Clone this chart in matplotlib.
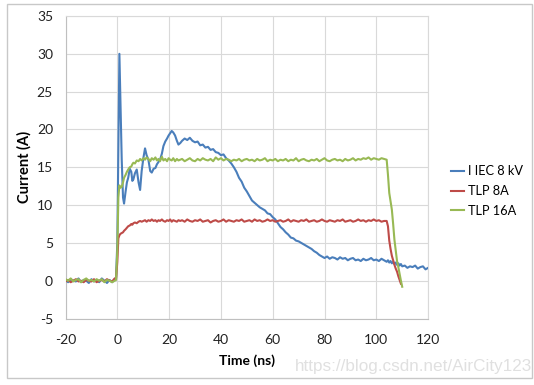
import numpy as np
import matplotlib
matplotlib.use("Agg")
import matplotlib.pyplot as plt
from matplotlib.patches import Rectangle

plt.rcParams["font.family"] = ["Lato", "DejaVu Sans"]
plt.rcParams["axes.unicode_minus"] = False

nan = np.nan

# sample times (ns)
t_pre = list(range(-20, 0))
t_edge = [-0.5, 0, 0.4, 0.8, 1.2, 1.7, 2.2, 2.6, 3.2, 3.7,
          4.2, 4.8, 5.4, 5.8, 6.2, 6.8, 7.5, 8.2, 8.8, 9.4,
          10.1, 10.7, 11.3, 12.0, 12.7, 13.3, 14.0, 14.7, 15.3, 15.9,
          16.5, 17.2, 17.8, 18.5, 19.2, 19.8, 20.4, 21.0, 21.6, 22.3,
          23.0, 23.6, 24.3]
t_mid = list(range(25, 104))
t_fall = [104, 104.5, 105, 105.5, 106, 106.5, 107, 107.5, 108, 108.5, 109, 109.5, 110]
t_post = list(range(111, 121))
time_ns = t_pre + t_edge + t_mid + t_fall + t_post

iec_8kv = (
    # -20 .. -1
    [0.1, -0.2, 0.2, 0.0, -0.1, 0.3, -0.2, 0.1, 0.0, -0.3,
     0.2, -0.1, 0.1, -0.2, 0.3, 0.0, -0.3, 0.1, -0.2, 0.2]
    # rising edge
    + [0.4, 5.0, 18.0, 30.0, 24.0, 16.0, 11.0, 10.2, 11.8, 13.0,
       13.6, 14.8, 14.4, 13.2, 13.4, 14.2, 14.7, 13.0, 12.0, 14.5,
       16.3, 17.5, 16.6, 16.0, 14.5, 14.3, 14.8, 14.9, 15.4, 15.7,
       16.0, 16.8, 17.8, 18.4, 18.8, 19.2, 19.5, 19.8, 19.6, 19.2,
       18.5, 18.0, 18.2]
    # 25 .. 103
    + [18.5, 18.8, 18.6, 18.9, 18.5, 18.3, 18.4, 17.9, 18.0, 17.6,
       17.7, 17.3, 17.4, 17.0, 16.9, 16.6, 16.7, 16.2, 15.9, 15.5,
       15.0, 14.4, 13.6, 13.1, 12.3, 11.8, 11.2, 10.6, 10.3, 10.0,
       9.7, 9.5, 9.3, 8.9, 8.8, 8.4, 8.1, 7.6, 7.1, 6.8,
       6.4, 6.1, 5.7, 5.6, 5.3, 5.2, 5.0, 4.8, 4.6, 4.4,
       4.2, 3.9, 3.7, 3.4, 3.2, 3.0, 3.2, 2.9, 3.1, 3.0,
       2.8, 3.1, 2.9, 3.0, 2.7, 2.9, 3.0, 2.7, 2.8, 2.6,
       2.9, 2.7, 2.8, 3.0, 2.7, 2.8, 2.6, 2.9, 2.7]
    # 104 .. 110
    + [2.5, 2.7, 2.4, 2.6, 2.3, 2.5, 2.2, 2.4, 2.1, 2.3, 2.0, 2.2, 1.9]
    # 111 .. 120
    + [2.0, 1.7, 1.9, 1.8, 2.0, 1.6, 1.8, 1.9, 1.5, 1.7]
)

tlp_8a = (
    [-0.1, 0.1, -0.2, 0.0, 0.2, -0.1, 0.0, -0.2, 0.1, 0.0,
     -0.1, 0.2, -0.2, 0.0, 0.1, -0.1, 0.2, 0.0, -0.1, 0.3]
    + [0.2, 2.5, 5.6, 6.0, 6.2, 6.3, 6.4, 6.6, 6.8, 7.0,
       7.2, 7.3, 7.5, 7.4, 7.6, 7.7, 7.6, 7.8, 7.9, 7.8,
       7.9, 8.0, 7.8, 8.0, 7.9, 8.1, 7.9, 8.0, 7.8, 8.0,
       7.9, 8.1, 7.9, 7.8, 8.0, 7.9, 8.1, 7.8, 8.0, 7.9,
       7.8, 8.0, 7.9]
    + [8.0, 7.8, 8.1, 7.9, 7.8, 8.0, 7.9, 8.1, 7.8, 7.9,
       8.0, 7.7, 7.9, 8.0, 7.8, 7.9, 8.1, 7.8, 8.0, 7.9,
       7.8, 8.0, 7.9, 8.1, 7.8, 7.9, 8.0, 7.8, 8.1, 7.9,
       8.0, 7.8, 7.9, 8.1, 7.9, 8.0, 7.8, 7.9, 8.0, 7.8,
       7.9, 8.1, 7.8, 8.0, 7.9, 7.8, 8.0, 7.9, 8.1, 7.8,
       7.9, 8.0, 7.8, 7.9, 8.1, 7.9, 7.8, 8.0, 7.9, 7.8,
       8.0, 7.9, 8.1, 7.8, 7.9, 8.0, 7.8, 7.9, 8.1, 7.9,
       8.0, 7.8, 8.0, 7.9, 8.1, 7.9, 8.0, 7.8, 7.9]
    + [7.9, 7.2, 5.3, 4.2, 3.3, 2.7, 2.1, 1.6, 1.2, 0.6, 0.1, -0.4, nan]
    + [nan] * 10
)

tlp_16a = (
    [0.2, 0.0, 0.3, -0.1, 0.1, 0.2, -0.2, 0.1, 0.3, 0.0,
     0.1, -0.1, 0.2, 0.0, 0.2, -0.2, 0.1, 0.0, -0.2, 0.0]
    + [0.1, 4.0, 11.0, 12.6, 12.3, 12.4, 13.0, 13.6, 14.0, 14.4,
       14.7, 15.0, 15.1, 15.4, 15.6, 15.5, 15.9, 15.8, 16.1, 15.9,
       16.2, 16.0, 16.3, 16.1, 15.8, 16.2, 16.0, 16.3, 15.9, 16.1,
       15.8, 16.4, 15.9, 16.1, 15.8, 16.2, 16.0, 15.9, 16.2, 15.8,
       16.1, 15.9, 16.0]
    + [16.1, 15.8, 16.0, 16.2, 15.9, 15.8, 16.1, 15.9, 16.2, 16.0,
       15.9, 16.1, 15.8, 16.3, 16.0, 16.2, 15.9, 16.1, 16.0, 15.8,
       16.0, 15.9, 16.1, 15.8, 16.0, 16.1, 15.9, 16.0, 15.8, 16.1,
       15.9, 16.0, 16.2, 15.8, 16.0, 15.9, 16.1, 15.8, 16.0, 15.9,
       16.1, 15.8, 16.0, 15.9, 16.2, 15.8, 16.0, 16.1, 15.9, 15.8,
       16.0, 15.9, 16.1, 15.8, 16.0, 16.2, 15.9, 15.8, 16.0, 16.1,
       15.9, 16.0, 15.8, 16.1, 15.9, 16.0, 16.2, 15.9, 16.1, 16.0,
       16.2, 16.1, 16.3, 16.0, 16.2, 16.1, 16.0, 16.2, 16.1]
    + [16.0, 14.0, 11.6, 10.5, 9.4, 7.5, 5.4, 4.0, 2.6, 1.8, 0.9, 0.0, -0.8]
    + [nan] * 10
)

assert len(time_ns) == len(iec_8kv) == len(tlp_8a) == len(tlp_16a)

series_names = ["I IEC 8 kV", "TLP 8A", "TLP 16A"]
series_colors = ["#4A7EBB", "#BE4B48", "#98B954"]

fig = plt.figure(figsize=(5.34, 3.85), dpi=100)
ax = fig.add_axes([0.1227, 0.1727, 0.679, 0.7857])

for vals, name, col in zip([iec_8kv, tlp_8a, tlp_16a], series_names, series_colors):
    ax.plot(time_ns, vals, color=col, lw=1.5, label=name, zorder=3)

ax.set_xlim(-20, 120)
ax.set_ylim(-5, 35)
ax.set_xticks(range(-20, 121, 20))
ax.set_yticks(range(-5, 36, 5))
ax.grid(True, color="#D9D9D9", lw=0.8, zorder=0)
for sp in ax.spines.values():
    sp.set_color("#D9D9D9")
    sp.set_linewidth(0.8)
ax.spines["left"].set_color("#BFBFBF")
ax.spines["bottom"].set_color("#BFBFBF")
ax.tick_params(axis="both", length=0, labelsize=10, colors="#222222")
ax.tick_params(axis="x", pad=11)
ax.tick_params(axis="y", pad=9)

ax.set_xlabel("Time (ns)", fontsize=10, fontweight="bold", labelpad=6)
ax.set_ylabel("Current (A)", fontsize=10.5, fontweight="bold", labelpad=4)

fig.legend(loc="center left", bbox_to_anchor=(451 / 534, 1 - 191 / 385),
           frameon=False, fontsize=9.2, handlelength=1.05, handletextpad=0.25,
           borderpad=0, borderaxespad=0, labelspacing=0.6)

fig.patches.append(Rectangle((7 / 534, 1 - 378 / 385), 525 / 534, 374 / 385,
                             transform=fig.transFigure, fill=False,
                             edgecolor="#C8C8C8", lw=1.0))

fig.text(532 / 534, 1 - 367 / 385, "https://blog.csdn.net/AirCity123",
         ha="right", va="center", fontsize=12.3, color="#E0E0E0",
         family="Liberation Sans")

fig.savefig("out.png", dpi=100)
